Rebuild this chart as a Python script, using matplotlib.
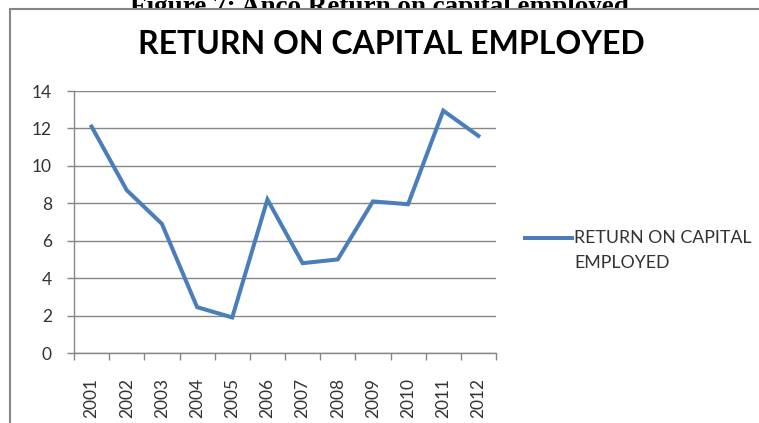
import numpy as np
import matplotlib.pyplot as plt
from matplotlib.patches import Rectangle
from matplotlib.lines import Line2D

# データ
years = ['2001', '2002', '2003', '2004', '2005', '2006',
         '2007', '2008', '2009', '2010', '2011', '2012']
roce = [12.1, 8.7, 6.9, 2.45, 1.9, 8.2, 4.8, 5.0, 8.1, 7.95, 12.95, 11.6]

W, H = 759, 423
blue = '#4a7ebb'
grid = '#868686'
txt = '#333333'

plt.rcParams['font.family'] = ['Lato', 'DejaVu Sans']

fig = plt.figure(figsize=(W / 100, H / 100), dpi=100)

# 図のキャプション (上が切れている)
fig.text(379 / W, 1 - 14 / H, 'Figure 7: Anco Return on capital employed',
         ha='center', va='baseline', fontsize=19.5, fontweight='bold',
         family='Liberation Serif', color='black', zorder=-3)

# グラフの枠
frame = Rectangle((10 / W, -0.1), 1.0, 1 - 9 / H + 0.1, transform=fig.transFigure,
                  facecolor='white', edgecolor=grid, lw=1.5, zorder=-2)
fig.add_artist(frame)

# タイトル
fig.text(391 / W, 1 - 44 / H, 'RETURN ON CAPITAL EMPLOYED', ha='center', va='center',
         fontsize=23, fontweight='bold', color='black')

ax = fig.add_axes([74 / W, 70 / H, 422 / W, 262 / H])
ax.patch.set_alpha(0)

x = np.arange(1, len(years) + 1)
ax.plot(x, roce, color=blue, lw=2.9, solid_joinstyle='miter', zorder=3)

ax.set_xlim(0.5, len(years) + 0.5)
ax.set_ylim(0, 14)
ax.set_yticks(range(0, 15, 2))
ax.yaxis.grid(True, color=grid, lw=1)
ax.set_axisbelow(True)

ax.set_xticks(np.arange(0.5, len(years) + 1, 1))
ax.set_xticklabels([])
ax.set_xticks(x, minor=True)
ax.set_xticklabels(years, minor=True, rotation=90, va='top', ha='center')
ax.tick_params(axis='x', which='minor', length=0, pad=18, labelsize=12.5, labelcolor=txt)
ax.tick_params(axis='x', which='major', length=5, color=grid, width=1)
ax.tick_params(axis='y', length=5, color=grid, width=1, labelsize=12.5, labelcolor=txt, pad=11)

for s in ['top', 'right']:
    ax.spines[s].set_visible(False)
for s in ['left', 'bottom']:
    ax.spines[s].set_color(grid)
    ax.spines[s].set_linewidth(1)

# 凡例
fig.add_artist(Line2D([525 / W, 572 / W], [1 - 238 / H, 1 - 238 / H],
                      transform=fig.transFigure, color=blue, lw=2.9))
fig.text(574 / W, 1 - 238 / H, 'RETURN ON CAPITAL', ha='left', va='center',
         fontsize=12.8, color=txt)
fig.text(574 / W, 1 - 263 / H, 'EMPLOYED', ha='left', va='center',
         fontsize=12.8, color=txt)

plt.savefig('out.png', dpi=100)
